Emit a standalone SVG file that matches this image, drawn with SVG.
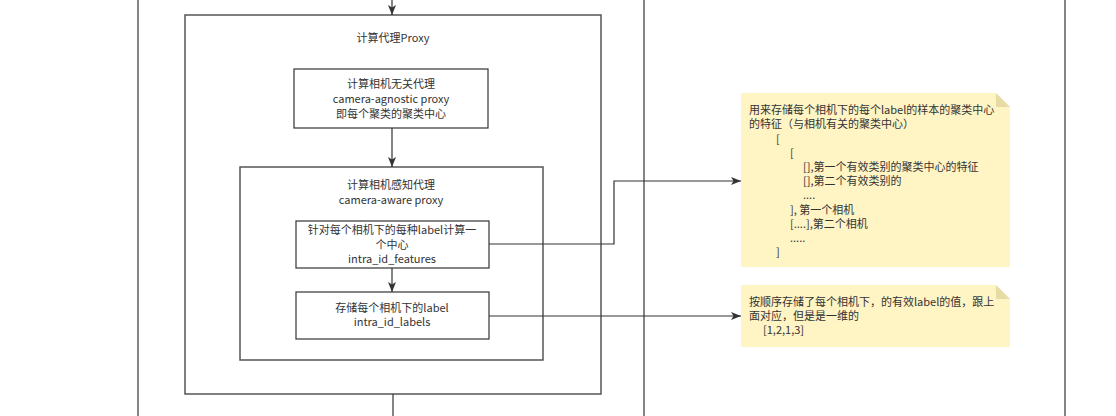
<svg xmlns="http://www.w3.org/2000/svg" width="1116" height="416" viewBox="0 0 1116 416">
<defs>
<marker id="ah" viewBox="0 0 10 10" refX="10" refY="5" markerWidth="10" markerHeight="10" markerUnits="userSpaceOnUse" orient="auto"><path d="M0,1 L10,5 L0,9 L2.5,5 Z" fill="#333"/></marker>
<style>
text{font-family:"Noto Sans CJK SC","Noto Sans",sans-serif;font-size:11px;fill:#333}
.c{text-anchor:middle}
.box{fill:#fff;stroke:#333;stroke-width:1.2}
.outer{fill:#fff;stroke:#555;stroke-width:1.5}
.ln{fill:none;stroke:#333;stroke-width:1.2}
.note{fill:#fff4c4}
.fold{fill:#e6dba4}
</style>
</defs>
<rect width="1116" height="416" fill="#fff"/>
<g id="frame">
<line x1="138" y1="0" x2="138" y2="416" stroke="#333" stroke-width="1.2"/>
<line x1="644" y1="0" x2="644" y2="416" stroke="#333" stroke-width="1.2"/>
<line x1="1065" y1="0" x2="1065" y2="416" stroke="#333" stroke-width="1.2"/>
</g>
<g id="proxy">
<rect class="outer" x="185" y="15" width="416" height="379"/>
<text class="c" x="393" y="42">计算代理Proxy</text>
</g>
<g id="agnostic">
<rect class="box" x="294" y="69" width="194" height="59"/>
<text class="c" x="391" y="88">计算相机无关代理</text>
<text class="c" x="391" y="103">camera-agnostic proxy</text>
<text class="c" x="391" y="118">即每个聚类的聚类中心</text>
</g>
<g id="aware">
<rect class="outer" x="240" y="167" width="303" height="193"/>
<text class="c" x="391" y="189">计算相机感知代理</text>
<text class="c" x="391" y="204">camera-aware proxy</text>
</g>
<g id="features">
<rect class="box" x="296" y="221" width="193" height="47"/>
<text class="c" x="392" y="234">针对每个相机下的每种label计算一</text>
<text class="c" x="392" y="249">个中心</text>
<text class="c" x="392" y="263">intra_id_features</text>
</g>
<g id="labels">
<rect class="box" x="296" y="292" width="193" height="47"/>
<text class="c" x="392" y="312">存储每个相机下的label</text>
<text class="c" x="392" y="326">intra_id_labels</text>
</g>
<g id="note1">
<path class="note" d="M741,93 H996 L1010,107 V267 H741 Z"/>
<path class="fold" d="M996,93 L1010,107 H996 Z"/>
<text x="749" y="114">用来存储每个相机下的每个label的样本的聚类中心</text>
<text x="749" y="128">的特征（与相机有关的聚类中心）</text>
<text x="776" y="143">[</text>
<text x="790" y="157">[</text>
<text x="803" y="171">[],第一个有效类别的聚类中心的特征</text>
<text x="803" y="185">[],第二个有效类别的</text>
<text x="803" y="199">....</text>
<text x="790" y="214">], 第一个相机</text>
<text x="790" y="228">[....],第二个相机</text>
<text x="790" y="242">.....</text>
<text x="776" y="256">]</text>
</g>
<g id="note2">
<path class="note" d="M741,285 H996 L1010,299 V347 H741 Z"/>
<path class="fold" d="M996,285 L1010,299 H996 Z"/>
<text x="749" y="306">按顺序存储了每个相机下，的有效label的值，跟上</text>
<text x="749" y="320">面对应，但是是一维的</text>
<text x="763" y="334">[1,2,1,3]</text>
</g>
<g id="connectors">
<line class="ln" x1="392" y1="0" x2="392" y2="15" marker-end="url(#ah)"/>
<line class="ln" x1="392" y1="128" x2="392" y2="167" marker-end="url(#ah)"/>
<line class="ln" x1="392" y1="268" x2="392" y2="292" marker-end="url(#ah)"/>
<line class="ln" x1="393" y1="394" x2="393" y2="416"/>
<path class="ln" d="M489,244 H614 V181 H741" marker-end="url(#ah)"/>
<line class="ln" x1="489" y1="316" x2="741" y2="316" marker-end="url(#ah)"/>
</g>
</svg>
